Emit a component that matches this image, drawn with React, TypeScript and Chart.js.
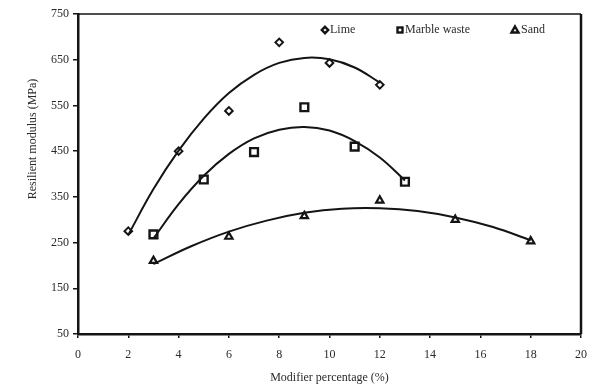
import React, { useEffect, useRef } from "react";
import { Chart, registerables } from "chart.js";

Chart.register(...registerables);

// Measured points
const limeX = [2, 4, 6, 8, 10, 12];
const limeY = [275, 450, 538, 688, 643, 595];
const marbleX = [3, 5, 7, 9, 11, 13];
const marbleY = [268, 388, 448, 546, 460, 383];
const sandX = [3, 6, 9, 12, 15, 18];
const sandY = [210, 263, 308, 342, 300, 253];

// Trend curves
const limeTrendX = [2, 3, 4, 5, 6, 7, 8, 9, 10, 11, 12];
const limeTrendY = [267, 367, 451, 521, 577, 617, 643, 654, 651, 633, 600];
const marbleTrendX = [3, 4, 5, 6, 7, 8, 9, 10, 11, 12, 13];
const marbleTrendY = [259, 334, 396, 444, 478, 497, 503, 495, 472, 436, 386];
const sandTrendX = [3, 4.5, 6, 7.5, 9, 10.5, 12, 13.5, 15, 16.5, 18];
const sandTrendY = [203, 242, 274, 298, 315, 324, 325, 319, 305, 284, 255];

const seriesNames = ["Lime", "Marble waste", "Sand"];
const xTitle = "Modifier percentage (%)";
const yTitle = "Resilient modulus (MPa)";

const FONT = "'Liberation Serif', 'Times New Roman', serif";
const INK = "#141414";
const TEXT = "#2a2a2a";

const toPts = (xs: number[], ys: number[]) => xs.map((x, i) => ({ x, y: ys[i] }));

const framePlugin = {
  id: "frame",
  afterDraw(chart: any) {
    const { ctx, chartArea: a } = chart;
    ctx.save();
    ctx.strokeStyle = INK;
    ctx.lineWidth = 1.5;
    ctx.beginPath();
    ctx.moveTo(a.left, a.top);
    ctx.lineTo(a.right, a.top);
    ctx.stroke();
    ctx.lineWidth = 2.5;
    ctx.beginPath();
    ctx.moveTo(a.right, a.top);
    ctx.lineTo(a.right, a.bottom);
    ctx.stroke();

    // y-axis title
    ctx.fillStyle = TEXT;
    ctx.font = `12px ${FONT}`;
    ctx.textAlign = "center";
    ctx.textBaseline = "middle";
    ctx.translate(33, 139);
    ctx.rotate(-Math.PI / 2);
    ctx.fillText(yTitle, 0, 0);
    ctx.restore();

    // legend
    ctx.save();
    ctx.font = `12px ${FONT}`;
    ctx.fillStyle = TEXT;
    ctx.textAlign = "left";
    ctx.textBaseline = "middle";
    const ly = a.top + 16;
    const lxs = [a.left + 247, a.left + 322, a.left + 437];
    ctx.strokeStyle = INK;
    ctx.lineWidth = 2.4;
    // Lime diamond
    let x = lxs[0];
    ctx.beginPath();
    ctx.moveTo(x, ly - 3.2);
    ctx.lineTo(x + 3.2, ly);
    ctx.lineTo(x, ly + 3.2);
    ctx.lineTo(x - 3.2, ly);
    ctx.closePath();
    ctx.stroke();
    ctx.fillText(seriesNames[0], x + 5, ly);
    // Marble square
    x = lxs[1];
    ctx.strokeRect(x - 2.5, ly - 2.5, 5, 5);
    ctx.fillText(seriesNames[1], x + 5, ly);
    // Sand triangle
    x = lxs[2];
    ctx.beginPath();
    ctx.moveTo(x, ly - 3.5);
    ctx.lineTo(x + 3.5, ly + 2.5);
    ctx.lineTo(x - 3.5, ly + 2.5);
    ctx.closePath();
    ctx.stroke();
    ctx.fillText(seriesNames[2], x + 6, ly);
    ctx.restore();
  },
};

export default function App() {
  const ref = useRef<HTMLCanvasElement | null>(null);

  useEffect(() => {
    if (!ref.current) return;
    const marker = (style: string, r: number, bw: number) => ({
      showLine: false,
      pointStyle: style,
      pointRadius: r,
      pointHoverRadius: r,
      pointBorderWidth: bw,
      pointBorderColor: INK,
      pointBackgroundColor: "#ffffff",
      borderColor: INK,
      backgroundColor: "#ffffff",
    });
    const trend = {
      showLine: true,
      pointRadius: 0,
      borderColor: INK,
      borderWidth: 2,
      tension: 0.4,
      fill: false,
    };
    const chart = new Chart(ref.current, {
      type: "scatter",
      data: {
        datasets: [
          { label: seriesNames[0] + " trend", data: toPts(limeTrendX, limeTrendY), ...trend },
          { label: seriesNames[1] + " trend", data: toPts(marbleTrendX, marbleTrendY), ...trend },
          { label: seriesNames[2] + " trend", data: toPts(sandTrendX, sandTrendY), ...trend },
          { label: seriesNames[0], data: toPts(limeX, limeY), ...marker("rectRot", 3.8, 2) },
          { label: seriesNames[1], data: toPts(marbleX, marbleY), ...marker("rect", 5.5, 2.4) },
          { label: seriesNames[2], data: toPts(sandX, sandY), ...marker("triangle", 4.2, 2.2) },
        ] as any,
      },
      options: {
        animation: false,
        responsive: false,
        devicePixelRatio: 1,
        layout: { padding: { top: 14, right: 16, bottom: 0, left: 0 } },
        plugins: { legend: { display: false }, tooltip: { enabled: false } },
        scales: {
          x: {
            type: "linear",
            min: 0,
            max: 20,
            afterFit: (s: any) => {
              s.height = 53;
            },
            ticks: {
              stepSize: 2,
              color: TEXT,
              font: { family: FONT, size: 12 },
              padding: 10,
              maxRotation: 0,
            },
            grid: {
              display: true,
              drawOnChartArea: false,
              drawTicks: true,
              tickLength: 4,
              color: INK,
              lineWidth: 1.5,
            },
            border: { display: true, color: INK, width: 2.5 },
            title: {
              display: true,
              text: xTitle,
              color: TEXT,
              font: { family: FONT, size: 12 },
              padding: { top: 0, bottom: 2 },
            },
          },
          y: {
            type: "linear",
            min: 50,
            max: 750,
            afterFit: (s: any) => {
              s.width = 78;
            },
            ticks: {
              stepSize: 100,
              color: TEXT,
              font: { family: FONT, size: 12 },
              padding: 4,
            },
            grid: {
              display: true,
              drawOnChartArea: false,
              drawTicks: true,
              tickLength: 5,
              color: INK,
              lineWidth: 1.5,
            },
            border: { display: true, color: INK, width: 2.5 },
          },
        },
      },
      plugins: [framePlugin],
    });
    return () => chart.destroy();
  }, []);

  return (
    <div style={{ position: "fixed", left: 0, top: 0, width: 597, height: 387, background: "#fff" }}>
      <canvas ref={ref} width={597} height={387} />
    </div>
  );
}
